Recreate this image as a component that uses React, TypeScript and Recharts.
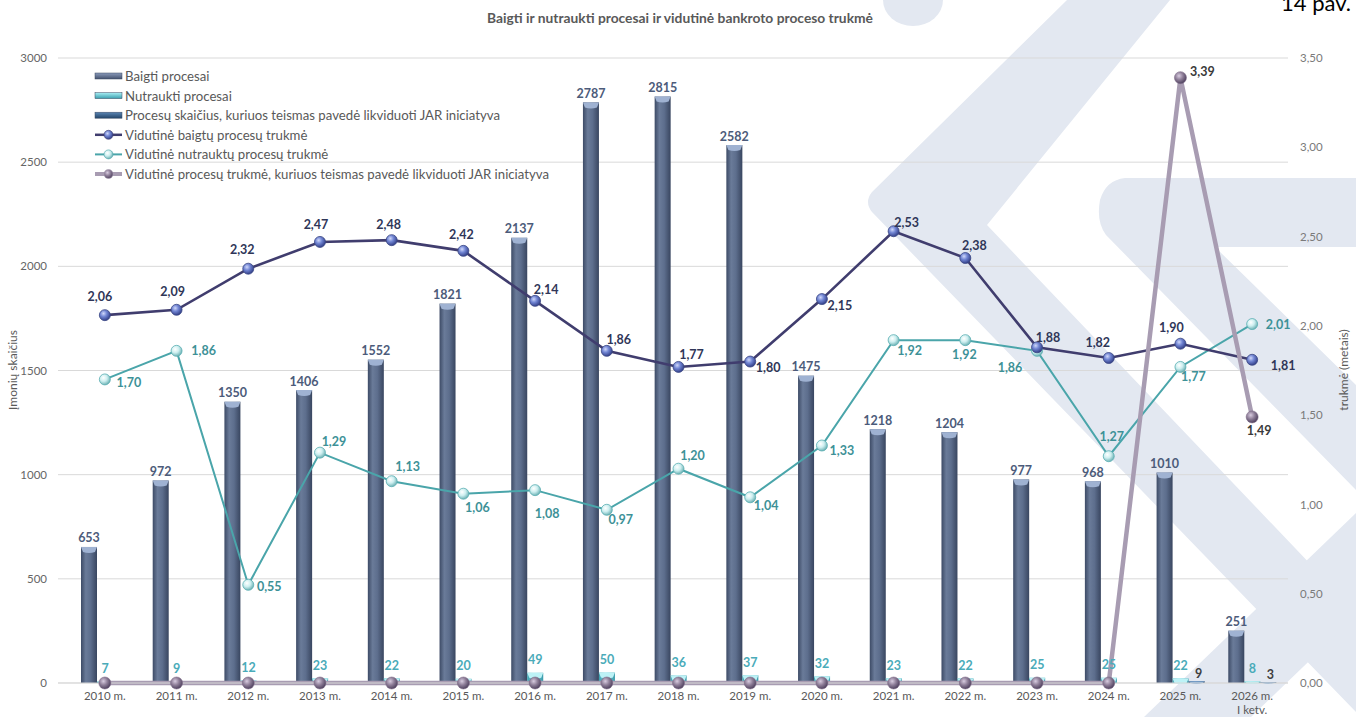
import React from 'react';
import { ComposedChart, Bar, Line, XAxis, YAxis, CartesianGrid, LabelList } from 'recharts';

const categories = ['2010 m.', '2011 m.', '2012 m.', '2013 m.', '2014 m.', '2015 m.', '2016 m.', '2017 m.', '2018 m.', '2019 m.', '2020 m.', '2021 m.', '2022 m.', '2023 m.', '2024 m.', '2025 m.', '2026 m.\nI ketv.'];
const baigtiProcesai = [653, 972, 1350, 1406, 1552, 1821, 2137, 2787, 2815, 2582, 1475, 1218, 1204, 977, 968, 1010, 251];
const nutrauktiProcesai = [7, 9, 12, 23, 22, 20, 49, 50, 36, 37, 32, 23, 22, 25, 25, 22, 8];
const jarProcesai: (number | null)[] = [null, null, null, null, null, null, null, null, null, null, null, null, null, null, null, 9, 3];
const baigtuTrukme = [2.06, 2.09, 2.32, 2.47, 2.48, 2.42, 2.14, 1.86, 1.77, 1.8, 2.15, 2.53, 2.38, 1.88, 1.82, 1.9, 1.81];
const nutrauktuTrukme = [1.7, 1.86, 0.55, 1.29, 1.13, 1.06, 1.08, 0.97, 1.2, 1.04, 1.33, 1.92, 1.92, 1.86, 1.27, 1.77, 2.01];
const jarTrukme = [0, 0, 0, 0, 0, 0, 0, 0, 0, 0, 0, 0, 0, 0, 0, 3.39, 1.49];

const leftTicks = [0, 500, 1000, 1500, 2000, 2500, 3000];
const rightTicks = [0, 0.5, 1, 1.5, 2, 2.5, 3, 3.5];

const seriesNames = [
  'Baigti procesai',
  'Nutraukti procesai',
  'Procesų skaičius, kuriuos teismas pavedė likviduoti JAR iniciatyva',
  'Vidutinė baigtų procesų trukmė',
  'Vidutinė nutrauktų procesų trukmė',
  'Vidutinė procesų trukmė, kuriuos teismas pavedė likviduoti JAR iniciatyva',
];

// label placement offsets (dx, dy) relative to each point
const baigtuLabelOffsets = [
  [-5, -19], [-4, -18], [-6, -19], [-4, -17], [-3, -16], [-2, -16], [11, -11], [12, -11], [13, -12],
  [18, 6], [18, 6], [13, -9], [9, -13], [11, -10], [-11, -16], [-9, -16], [31, 6],
];
const nutrauktuLabelOffsets = [
  [24, 3], [27, 0], [21, 2], [14, -11], [16, -15], [14, 14], [12, 23], [14, 10], [14, -13],
  [16, 8], [20, 5], [16, 10], [-1, 14], [-27, 17], [3, -20], [13, 10], [26, 0],
];
const jarLabelOffsets = [
  [0, 0], [0, 0], [0, 0], [0, 0], [0, 0], [0, 0], [0, 0], [0, 0], [0, 0],
  [0, 0], [0, 0], [0, 0], [0, 0], [0, 0], [0, 0], [22, -6], [7, 14],
];

const data = categories.map((cat, i) => ({
  cat,
  bp: baigtiProcesai[i],
  np: nutrauktiProcesai[i],
  jp: jarProcesai[i],
  bt: baigtuTrukme[i],
  nt: nutrauktuTrukme[i],
  jt: jarTrukme[i],
}));

const FONT = 'Lato, "Open Sans", sans-serif';
const fmt = (v: number) => v.toFixed(2).replace('.', ',');

const makeLineLabel = (offsets: number[][], color: string, skipZero = false) => (props: any) => {
  const { x, y, value, index } = props;
  if (value == null || (skipZero && value === 0)) return null;
  const [dx, dy] = offsets[index] || [0, -15];
  return (
    <text x={x + dx} y={y + dy} textAnchor="middle" dominantBaseline="central" fontSize={12.5} fontWeight={700} fill={color} fontFamily={FONT}>
      {fmt(value)}
    </text>
  );
};

const makeBarLabel = (color: string, gap: number, dxShift = 0) => (props: any) => {
  const { x, y, width, value } = props;
  if (value == null) return null;
  return (
    <text x={x + width / 2 + dxShift} y={y - gap} textAnchor="middle" dominantBaseline="central" fontSize={12.5} fontWeight={700} fill={color} fontFamily={FONT}>
      {value}
    </text>
  );
};

const makeCylBar = (grad: string, cap: string) => (props: any) => {
  const { x, y, width, height } = props;
  if (height == null || height <= 0 || width <= 0) return <g />;
  const capH = Math.min(5, height);
  return (
    <g>
      <rect x={x} y={y} width={width} height={height} fill={`url(#${grad})`} />
      <path d={`M${x},${y} L${x + width},${y} L${x + width - 2},${y + capH} Q${x + width / 2},${y + capH + 2} ${x + 2},${y + capH} Z`} fill={cap} />
    </g>
  );
};

const XTick = (props: any) => {
  const { x, y, payload } = props;
  const lines = String(payload.value).split('\n');
  return (
    <text x={x} y={y} textAnchor="middle" fontSize={11.5} fill="#595959" fontFamily={FONT}>
      {lines.map((l, i) => (
        <tspan key={i} x={x} dy={i === 0 ? 9 : 14}>{l}</tspan>
      ))}
    </text>
  );
};

const Legend = () => {
  const rows = [
    { kind: 'bar', grad: 'gBaigti' },
    { kind: 'bar', grad: 'gNutr' },
    { kind: 'bar', grad: 'gJar' },
    { kind: 'line', stroke: '#403d6e', dot: 'dotBlue', w: 2.5 },
    { kind: 'line', stroke: '#4aa5aa', dot: 'dotTeal', w: 2 },
    { kind: 'line', stroke: '#a89cb2', dot: 'dotPurple', w: 4 },
  ];
  const ys = [76, 95.6, 115.2, 134.8, 154.4, 174];
  return (
    <g>
      {rows.map((r: any, i) => {
        const y = ys[i];
        return (
          <g key={i}>
            {r.kind === 'bar' ? (
              <rect x={95} y={y - 3} width={27} height={6} fill={`url(#${r.grad}V)`} stroke="#3b4862" strokeWidth={0.5} />
            ) : (
              <g>
                <line x1={95} x2={122} y1={y} y2={y} stroke={r.stroke} strokeWidth={r.w} />
                <circle cx={108.5} cy={y} r={4.5} fill={`url(#${r.dot})`} stroke={r.stroke} strokeWidth={0.6} />
              </g>
            )}
            <text x={125} y={y} dominantBaseline="central" fontSize={13.2} fill="#595959" fontFamily={FONT}>{seriesNames[i]}</text>
          </g>
        );
      })}
    </g>
  );
};

const WM = '#e3e8f1';

export default function App() {
  return (
    <div style={{ position: 'absolute', left: 0, top: 0, width: 1356, height: 717, background: '#ffffff', overflow: 'hidden', fontFamily: FONT }}>
      <svg width={1356} height={717} style={{ position: 'absolute', left: 0, top: 0 }}>
        <defs>
          <linearGradient id="gBaigti" x1="0" y1="0" x2="1" y2="0">
            <stop offset="0%" stopColor="#3d4b66" />
            <stop offset="30%" stopColor="#6a7b99" />
            <stop offset="60%" stopColor="#5d6e8d" />
            <stop offset="100%" stopColor="#394660" />
          </linearGradient>
          <linearGradient id="gNutr" x1="0" y1="0" x2="1" y2="0">
            <stop offset="0%" stopColor="#3a9fae" />
            <stop offset="40%" stopColor="#80d9e3" />
            <stop offset="100%" stopColor="#3a9aaa" />
          </linearGradient>
          <linearGradient id="gJar" x1="0" y1="0" x2="1" y2="0">
            <stop offset="0%" stopColor="#28496f" />
            <stop offset="40%" stopColor="#4a76a5" />
            <stop offset="100%" stopColor="#254569" />
          </linearGradient>
          <linearGradient id="gBaigtiV" x1="0" y1="0" x2="0" y2="1">
            <stop offset="0%" stopColor="#8a9bbb" />
            <stop offset="100%" stopColor="#44526e" />
          </linearGradient>
          <linearGradient id="gNutrV" x1="0" y1="0" x2="0" y2="1">
            <stop offset="0%" stopColor="#a8eef4" />
            <stop offset="100%" stopColor="#3a9fae" />
          </linearGradient>
          <linearGradient id="gJarV" x1="0" y1="0" x2="0" y2="1">
            <stop offset="0%" stopColor="#5a86b5" />
            <stop offset="100%" stopColor="#254569" />
          </linearGradient>
          <radialGradient id="dotBlue" cx="38%" cy="35%" r="65%">
            <stop offset="0%" stopColor="#d0d8fa" />
            <stop offset="45%" stopColor="#7286d4" />
            <stop offset="100%" stopColor="#34418a" />
          </radialGradient>
          <radialGradient id="dotTeal" cx="38%" cy="35%" r="65%">
            <stop offset="0%" stopColor="#ffffff" />
            <stop offset="50%" stopColor="#cdeff0" />
            <stop offset="100%" stopColor="#6fb3b6" />
          </radialGradient>
          <radialGradient id="dotPurple" cx="38%" cy="35%" r="65%">
            <stop offset="0%" stopColor="#d8cce0" />
            <stop offset="50%" stopColor="#8f7f99" />
            <stop offset="100%" stopColor="#514360" />
          </radialGradient>
        </defs>
        {/* background watermark */}
        <ellipse cx={913} cy={0} rx={30} ry={26} fill={WM} />
        <path d="M1067,0 L1170,0 L987,225 L1356,612 L1356,712 L872,212 Q864,202 872,192 Z" fill={WM} />
        <path d="M1125,178 L1356,178 L1356,247 L1215,247 L1356,385 L1356,490 L1106,235 Q1096,222 1100,200 Q1106,180 1125,178 Z" fill={WM} />
        <path d="M1144,717 L1251,717 L1356,616 L1356,513 Z" fill={WM} />
      </svg>

      <div style={{ position: 'absolute', left: 0, top: 0 }}>
        <ComposedChart width={1356} height={717} data={data} margin={{ top: 58, right: 8, bottom: 4, left: 8 }} barGap={0}>
          <CartesianGrid yAxisId="left" vertical={false} stroke="#d9d9d9" />
          <XAxis dataKey="cat" interval={0} padding={{ left: 11, right: 0 }} height={30} tickLine={false} axisLine={{ stroke: '#d9d9d9' }} tickMargin={2} tick={<XTick />} />
          <YAxis yAxisId="left" width={50} domain={[0, 3000]} ticks={leftTicks} axisLine={false} tickLine={false} tickMargin={5} tick={{ fontSize: 11.5, fill: '#666666', fontFamily: FONT }} />
          <YAxis yAxisId="right" orientation="right" width={60} domain={[0, 3.5]} ticks={rightTicks} axisLine={false} tickLine={false} tickMargin={6} tickFormatter={fmt} tick={{ fontSize: 11.5, fill: '#7a7a7a', fontFamily: FONT }} />
          <Bar yAxisId="left" dataKey="bp" barSize={16} isAnimationActive={false} shape={makeCylBar('gBaigti', '#9fb2d2')}>
            <LabelList dataKey="bp" content={makeBarLabel('#4c5b7a', 9)} />
          </Bar>
          <Bar yAxisId="left" dataKey="np" barSize={16} isAnimationActive={false} shape={makeCylBar('gNutr', '#bdf2f6')}>
            <LabelList dataKey="np" content={makeBarLabel('#4aabb9', 13)} />
          </Bar>
          <Bar yAxisId="left" dataKey="jp" barSize={16} isAnimationActive={false} shape={makeCylBar('gJar', '#7ea6cf')}>
            <LabelList dataKey="jp" content={makeBarLabel('#3f3f3f', 8, 2)} />
          </Bar>
          <Line yAxisId="right" type="linear" dataKey="nt" stroke="#4aa5aa" strokeWidth={2} isAnimationActive={false} activeDot={false}
            dot={{ r: 5.5, fill: 'url(#dotTeal)', stroke: '#5aaeb2', strokeWidth: 0.8 }}>
            <LabelList dataKey="nt" content={makeLineLabel(nutrauktuLabelOffsets, '#3d9197')} />
          </Line>
          <Line yAxisId="right" type="linear" dataKey="bt" stroke="#403d6e" strokeWidth={2.6} isAnimationActive={false} activeDot={false}
            dot={{ r: 5.5, fill: 'url(#dotBlue)', stroke: '#3a4684', strokeWidth: 0.8 }}>
            <LabelList dataKey="bt" content={makeLineLabel(baigtuLabelOffsets, '#2f3658')} />
          </Line>
          <Line yAxisId="right" type="linear" dataKey="jt" stroke="#a89cb2" strokeWidth={4.5} isAnimationActive={false} activeDot={false}
            dot={{ r: 6, fill: 'url(#dotPurple)', stroke: '#7d6c88', strokeWidth: 0.6 }}>
            <LabelList dataKey="jt" content={makeLineLabel(jarLabelOffsets, '#3a3a3a', true)} />
          </Line>
        </ComposedChart>
      </div>

      <svg width={1356} height={717} style={{ position: 'absolute', left: 0, top: 0, pointerEvents: 'none' }}>
        <text x={680} y={17} textAnchor="middle" dominantBaseline="central" fontSize={13.8} fontWeight={700} fill="#595959" fontFamily={FONT}>
          Baigti ir nutraukti procesai ir vidutinė bankroto proceso trukmė
        </text>
        <text x={1351} y={11} textAnchor="end" fontSize={22} fill="#000000" fontFamily={FONT}>14 pav.</text>
        <text transform="translate(12,370) rotate(-90)" textAnchor="middle" dominantBaseline="central" fontSize={12} fill="#595959" fontFamily={FONT}>Įmonių skaičius</text>
        <text transform="translate(1343,370) rotate(-90)" textAnchor="middle" dominantBaseline="central" fontSize={12} fill="#595959" fontFamily={FONT}>trukmė (metais)</text>
        <Legend />
      </svg>
    </div>
  );
}
